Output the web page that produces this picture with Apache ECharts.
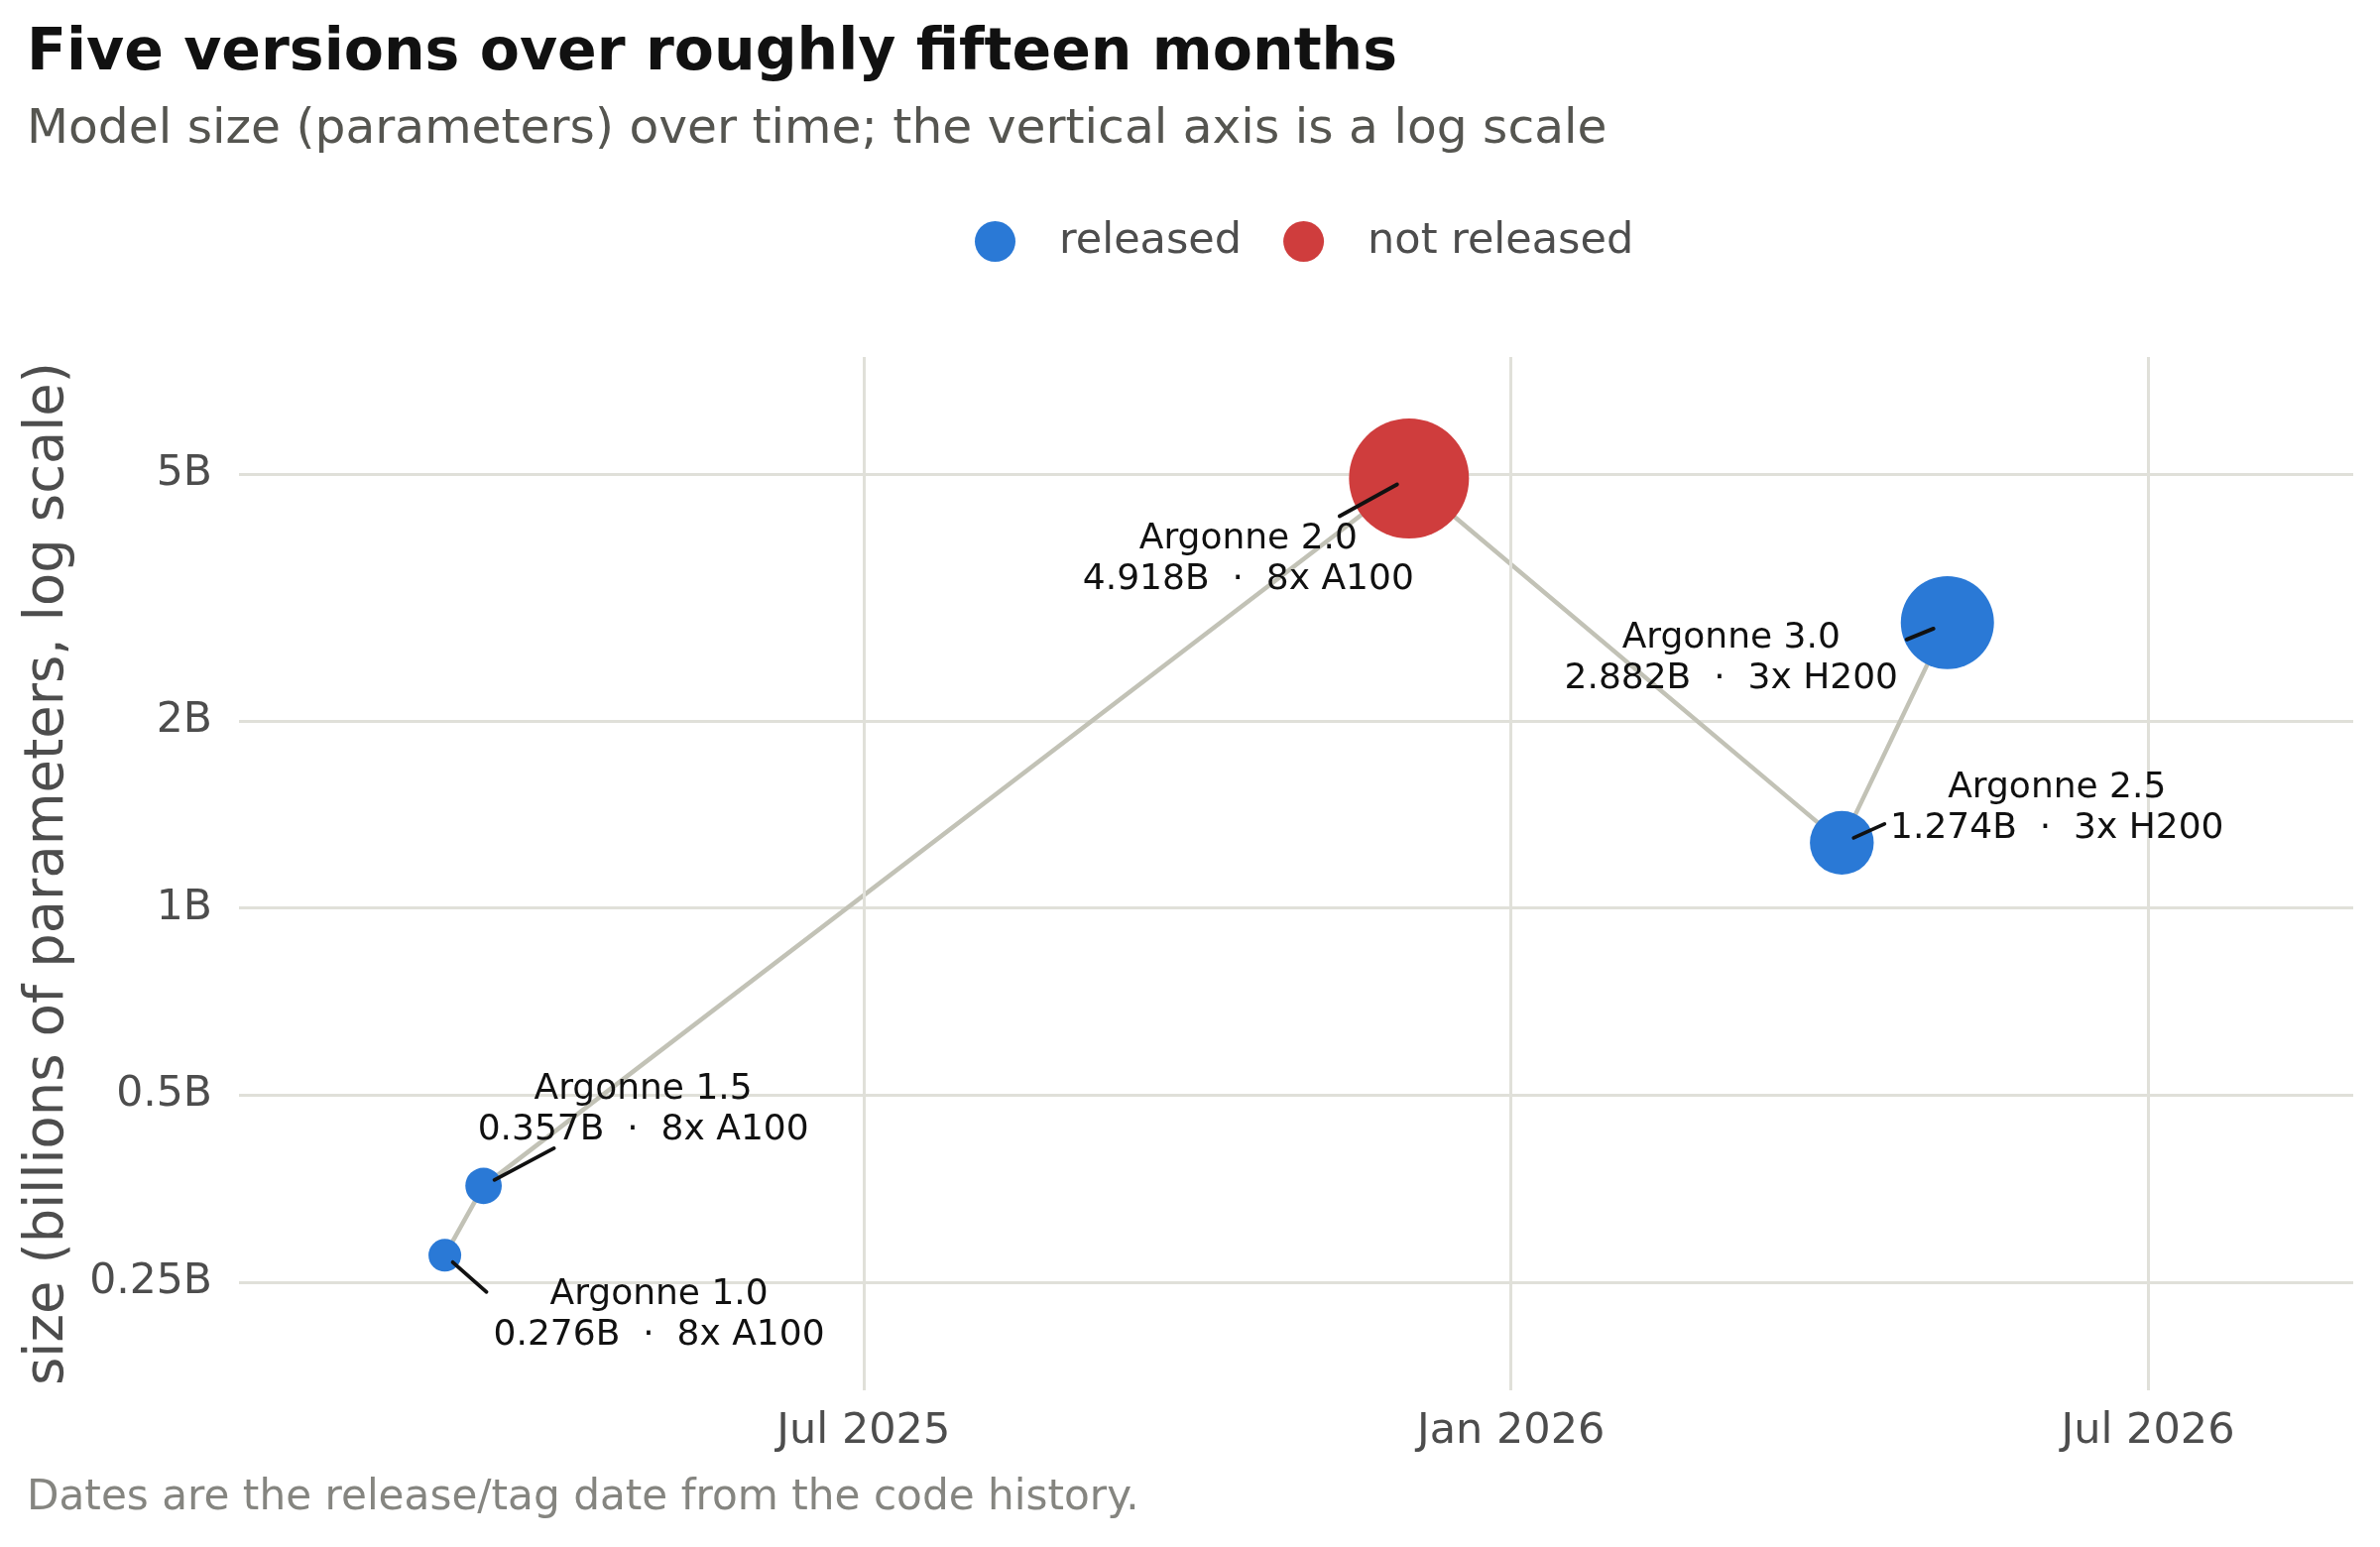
<!DOCTYPE html>
<html>
<head>
<meta charset="utf-8">
<title>Five versions over roughly fifteen months</title>
<script src="https://cdn.jsdelivr.net/npm/echarts@6/dist/echarts.min.js"></script>
<style>
  html, body { margin: 0; padding: 0; background: #fff; }
  #chart { width: 2400px; height: 1560px; }
</style>
</head>
<body>
<div id="chart"></div>
<script>
// data
const versions = ['Argonne 1.0', 'Argonne 1.5', 'Argonne 2.0', 'Argonne 2.5', 'Argonne 3.0']
const releaseDates = ['2025-03-04', '2025-03-15', '2025-12-03', '2026-04-05', '2026-05-05']
const sizesB = [0.276, 0.357, 4.918, 1.274, 2.882]
const hardware = ['8x A100', '8x A100', '8x A100', '3x H200', '3x H200']
const released = [true, true, false, true, true]

const yTicks = [0.25, 0.5, 1, 2, 5]
const xTicks = ['2025-07-01', '2026-01-01', '2026-07-01']
const monthNames = ['Jan', 'Feb', 'Mar', 'Apr', 'May', 'Jun', 'Jul', 'Aug', 'Sep', 'Oct', 'Nov', 'Dec']

// label placement (pixel offsets from each point), kept apart from the data
const labelOffsets = [[216, 60], [161, -77], [-162, 82], [217, -35], [-218, 36]]
const leaderOffsets = [
  [[8, 7], [42, 37]],
  [[11, -6], [71, -38]],
  [[-12, 6], [-70, 38]],
  [[12, -5], [43, -19]],
  [[-14, 6], [-41, 17]]
]

const BLUE = '#2a79d6'
const RED = '#cf3d3d'
const GRID = '#e0e0d9'
const FONT = 'DejaVu Sans'

const toTime = (s) => {
  const [y, m, d] = s.split('-').map(Number)
  return new Date(y, m - 1, d).getTime()
}
const monthLabel = (v) => {
  const d = new Date(v)
  return monthNames[d.getMonth()] + ' ' + d.getFullYear()
}

const points = releaseDates.map((d, i) => [toTime(d), sizesB[i], i])
const symbolSize = (val) => 5.7 + 52 * Math.sqrt(val[1])

const chart = echarts.init(document.getElementById('chart'))

const option = {
  animation: false,
  backgroundColor: '#fff',
  textStyle: { fontFamily: FONT },
  title: [
    {
      text: 'Five versions over roughly fifteen months',
      left: 27, top: 25, padding: 0,
      textStyle: { fontFamily: FONT, fontSize: 58.5, fontWeight: 'bold', color: '#111' }
    },
    {
      text: 'Model size (parameters) over time; the vertical axis is a log scale',
      left: 27, top: 107, padding: 0,
      textStyle: { fontFamily: FONT, fontSize: 48.7, fontWeight: 'normal', color: '#555550' }
    },
    {
      text: 'Dates are the release/tag date from the code history.',
      left: 27, top: 1490, padding: 0,
      textStyle: { fontFamily: FONT, fontSize: 42.2, fontWeight: 'normal', color: '#858580' }
    }
  ],
  legend: {
    data: ['released', 'not released'],
    left: 983,
    top: 222,
    padding: 0,
    icon: 'circle',
    itemWidth: 119,
    itemHeight: 41,
    itemGap: 42,
    textStyle: { fontFamily: FONT, fontSize: 43, color: '#4d4d4d' }
  },
  grid: {
    left: 241,
    right: 27,
    top: 360,
    bottom: 158
  },
  xAxis: {
    type: 'time',
    min: new Date(2025, 0, 4, 12).getTime(),
    max: new Date(2026, 7, 28, 8).getTime(),
    axisLine: { show: false },
    axisTick: { show: false },
    axisLabel: { show: false },
    splitLine: { show: false }
  },
  yAxis: {
    type: 'log',
    logBase: 10,
    min: 0.1673,
    max: 7.717,
    name: 'size (billions of parameters, log scale)',
    nameLocation: 'middle',
    nameRotate: 90,
    nameGap: 165,
    nameTextStyle: { fontFamily: FONT, fontSize: 54.3, color: '#4d4d4d' },
    axisLine: { show: false },
    axisTick: { show: false, customValues: yTicks },
    axisLabel: {
      customValues: yTicks,
      margin: 27,
      fontSize: 42.5,
      color: '#4d4d4d',
      formatter: (v) => +Number(v).toPrecision(6) + 'B'
    },
    splitLine: { show: true, lineStyle: { color: GRID, width: 3 } }
  },
  series: [
    {
      // vertical grid lines and date labels at the half-year marks
      name: 'x-grid',
      type: 'line',
      data: [],
      silent: true,
      z: 0,
      markLine: {
        silent: true,
        symbol: 'none',
        animation: false,
        lineStyle: { color: GRID, width: 3, type: 'solid' },
        label: {
          position: 'start',
          distance: 20,
          fontFamily: FONT,
          fontSize: 43,
          color: '#4d4d4d',
          formatter: (p) => monthLabel(p.value)
        },
        emphasis: { disabled: true },
        data: xTicks.map((t) => ({ xAxis: toTime(t) }))
      }
    },
    {
      name: 'path',
      type: 'line',
      data: points,
      showSymbol: false,
      silent: true,
      z: 1,
      lineStyle: { color: '#c2c2b6', width: 4.5 }
    },
    {
      name: 'released',
      type: 'scatter',
      data: points.filter((p) => released[p[2]]),
      symbolSize: symbolSize,
      z: 3,
      itemStyle: { color: BLUE, opacity: 1 }
    },
    {
      name: 'not released',
      type: 'scatter',
      data: points.filter((p) => !released[p[2]]),
      symbolSize: symbolSize,
      z: 3,
      itemStyle: { color: RED, opacity: 1 }
    },
    {
      name: 'labels',
      type: 'custom',
      data: points,
      encode: { x: 0, y: 1 },
      silent: true,
      z: 5,
      renderItem: (params, api) => {
        const i = params.dataIndex
        const c = api.coord([api.value(0), api.value(1)])
        const [a, b] = leaderOffsets[i]
        const [dx, dy] = labelOffsets[i]
        return {
          type: 'group',
          children: [
            {
              type: 'line',
              shape: { x1: c[0] + a[0], y1: c[1] + a[1], x2: c[0] + b[0], y2: c[1] + b[1] },
              style: { stroke: '#111', lineWidth: 3.8, lineCap: 'round' }
            },
            {
              type: 'text',
              style: {
                text: versions[i] + '\n' + sizesB[i].toFixed(3) + 'B  \u00b7  ' + hardware[i],
                x: c[0] + dx,
                y: c[1] + dy,
                align: 'center',
                verticalAlign: 'middle',
                fontFamily: FONT,
                fontSize: 36,
                lineHeight: 41,
                fill: '#111'
              }
            }
          ]
        }
      }
    }
  ]
}

chart.setOption(option)
</script>
</body>
</html>
